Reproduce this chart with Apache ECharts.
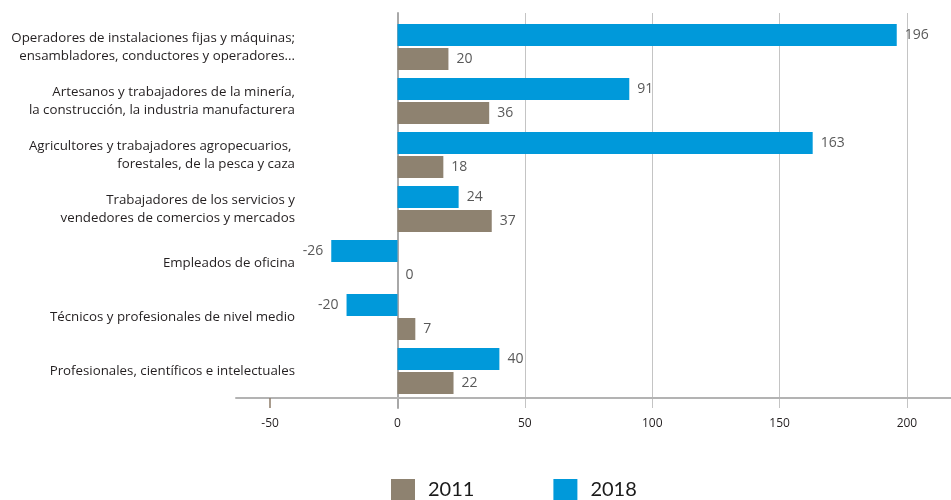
<!DOCTYPE html>
<html>
<head>
<meta charset="utf-8">
<script src="https://cdn.jsdelivr.net/npm/echarts@6/dist/echarts.min.js"></script>
<style>
    html, body { margin: 0; padding: 0; background: #fff; }
    #chart { width: 951px; height: 500px; }
</style>
</head>
<body>
<div id="chart"></div>
<script>
// categorias de arriba hacia abajo
const categories = [
    'Operadores de instalaciones fijas y máquinas;\nensambladores, conductores y operadores...',
    'Artesanos y trabajadores de la minería,\nla construcción, la industria manufacturera',
    'Agricultores y trabajadores agropecuarios, \nforestales, de la pesca y caza',
    'Trabajadores de los servicios y\nvendedores de comercios y mercados',
    'Empleados de oficina',
    'Técnicos y profesionales de nivel medio',
    'Profesionales, científicos e intelectuales'
];
const values2011 = [20, 36, 18, 37, 0, 7, 22];
const values2018 = [196, 91, 163, 24, -26, -20, 40];
const tickValues = [-50, 0, 50, 100, 150, 200];
const gridValues = [0, 50, 100, 150, 200];

const font = 'Open Sans';
const xMin = -63.4, xMax = 217.3;

function toItems(arr) {
    return arr.map(v => ({
        value: v,
        label: { position: v < 0 ? 'left' : 'right' }
    }));
}

const chart = echarts.init(document.getElementById('chart'));
chart.setOption({
    animation: false,
    textStyle: { fontFamily: font },
    legend: {
        data: ['2011', '2018'],
        left: 391,
        top: 478,
        padding: 0,
        icon: 'rect',
        itemWidth: 24,
        itemHeight: 22,
        itemGap: 79,
        textStyle: { fontSize: 20, lineHeight: 22, color: '#1a1a1a', fontFamily: 'Lato', padding: [2, 0, 0, 8] }
    },
    grid: [
        { left: 236, right: 0, top: 20, bottom: 102 },
        { left: 236, right: 0, top: 13, bottom: 92 }
    ],
    xAxis: [
        {
            gridIndex: 0,
            type: 'value',
            min: xMin,
            max: xMax,
            axisLine: { show: true, lineStyle: { color: '#b3b3b3', width: 2 } },
            axisTick: { show: true, customValues: [-50], length: 10, lineStyle: { color: '#8c7b69', width: 1.5 } },
            axisLabel: { customValues: tickValues, margin: 20, fontSize: 12, color: '#231f20' },
            splitLine: { show: false }
        },
        {
            gridIndex: 1,
            type: 'value',
            min: xMin,
            max: xMax,
            axisLine: { show: false },
            axisTick: { show: false, customValues: gridValues },
            axisLabel: { show: false },
            splitLine: { show: true, lineStyle: { color: '#c4c4c4', width: 1 } }
        }
    ],
    yAxis: [
        {
            gridIndex: 0,
            type: 'category',
            inverse: true,
            data: categories,
            offset: -59,
            axisLine: { show: false },
            axisTick: { show: false },
            axisLabel: { margin: 0, fontSize: 13.3, lineHeight: 18, color: '#231f20', align: 'right' },
            splitLine: { show: false }
        },
        {
            gridIndex: 1,
            type: 'value',
            min: 0,
            max: 1,
            axisLine: { show: true, onZero: true, lineStyle: { color: '#a8a8a8', width: 2 } },
            axisTick: { show: false },
            axisLabel: { show: false },
            splitLine: { show: false }
        }
    ],
    series: [
        {
            name: '2018', type: 'bar', xAxisIndex: 0, yAxisIndex: 0,
            color: '#0099da',
            barWidth: 22, barGap: '9%',
            label: { show: true, distance: 8, fontSize: 14, color: '#595959' },
            data: toItems(values2018)
        },
        {
            name: '2011', type: 'bar', xAxisIndex: 0, yAxisIndex: 0,
            color: '#8e8270',
            barWidth: 22, barGap: '9%',
            label: { show: true, distance: 8, fontSize: 14, color: '#595959' },
            data: toItems(values2011)
        }
    ]
});
</script>
</body>
</html>
